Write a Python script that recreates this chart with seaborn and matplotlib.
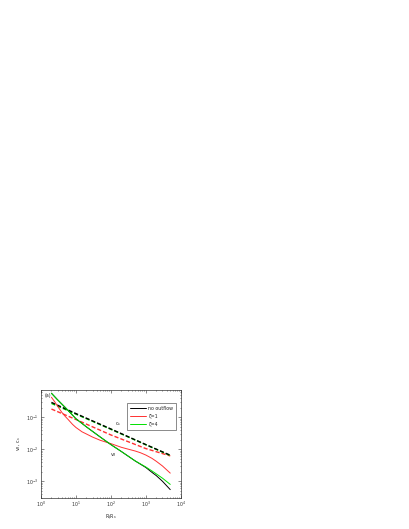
import numpy as np
import pandas as pd
import matplotlib
matplotlib.use("Agg")
import matplotlib.pyplot as plt
import seaborn as sns
from matplotlib.ticker import LogLocator, NullFormatter

# ---- data ----
R_solid = [2, 3, 5, 10, 20, 50, 100, 200, 500, 1000, 1500, 2000, 3000, 5000]
vR_noout = [0.56, 0.35, 0.20, 0.09, 0.05, 0.024, 0.014, 0.0085, 0.0043, 0.0027, 0.0019, 0.0015, 0.001, 0.00055]
vR_z4 = [0.56, 0.35, 0.20, 0.09, 0.05, 0.024, 0.014, 0.0085, 0.0043, 0.0028, 0.0021, 0.0017, 0.00125, 0.0008]

R_red = [2, 2.5, 3, 4, 5, 6, 8, 10, 15, 20, 30, 50, 100, 200, 300, 500, 700, 1000, 1500, 2000, 3000, 5000]
vR_z1 = [0.42, 0.30, 0.22, 0.14, 0.105, 0.085, 0.06, 0.048, 0.035, 0.03, 0.024, 0.019, 0.015, 0.0115,
         0.0102, 0.0088, 0.0078, 0.0066, 0.0052, 0.0042, 0.003, 0.0018]

R_cs = [2, 10, 100, 1000, 5000]
cs_noout = [0.29, 0.13, 0.043, 0.014, 0.0065]
cs_z4 = [0.27, 0.125, 0.042, 0.0138, 0.0064]
cs_z1 = [0.18, 0.085, 0.028, 0.0105, 0.0062]

labels = ["no outflow", "ζ=1", "ζ=4"]
colors = ["black", "#ff3030", "#00e000"]

sns.set_style("ticks")
plt.rcParams['font.family'] = ['DejaVu Sans']
plt.rcParams['mathtext.fontset'] = 'dejavusans'

fig = plt.figure(figsize=(4.09, 5.29), dpi=100)
ax = fig.add_axes([0.100, 0.0585, 0.342, 0.204])

fs = 3.4
lw = 0.7
# dashed sound speed lines
for R, v, c in [(R_cs, cs_z1, colors[1]), (R_cs, cs_z4, colors[2]), (R_cs, cs_noout, colors[0])]:
    sns.lineplot(x=R, y=v, ax=ax, color=c, lw=1.0, linestyle=(0, (3, 1.5)), legend=False)

# solid radial velocity lines
sns.lineplot(x=R_red, y=vR_z1, ax=ax, color=colors[1], lw=lw, label=labels[1])
sns.lineplot(x=R_solid, y=vR_noout, ax=ax, color=colors[0], lw=lw, label=labels[0])
sns.lineplot(x=R_solid, y=vR_z4, ax=ax, color=colors[2], lw=lw, label=labels[2])

ax.set_xscale("log")
ax.set_yscale("log")
ax.set_xlim(1, 1e4)
ax.set_ylim(3e-4, 0.7)

ax.xaxis.set_major_locator(LogLocator(base=10, numticks=10))
ax.xaxis.set_minor_locator(LogLocator(base=10, subs=np.arange(2, 10), numticks=10))
ax.yaxis.set_major_locator(LogLocator(base=10, numticks=10))
ax.yaxis.set_minor_locator(LogLocator(base=10, subs=np.arange(2, 10), numticks=10))
ax.xaxis.set_minor_formatter(NullFormatter())
ax.yaxis.set_minor_formatter(NullFormatter())

ax.tick_params(which="both", direction="in", top=True, right=True, labelsize=fs,
               width=0.4, pad=1.5, colors="#333333")
ax.tick_params(which="major", length=2)
ax.tick_params(which="minor", length=1)
for s in ax.spines.values():
    s.set_linewidth(0.5)
    s.set_color("#333333")

ax.set_xlabel("R/R$_s$", fontsize=fs, labelpad=2)
ax.set_ylabel("v$_R$, c$_s$", fontsize=fs, labelpad=2)

ax.text(0.03, 0.97, "(a)", transform=ax.transAxes, fontsize=fs, va="top", ha="left")
ax.text(135, 0.057, "c$_s$", fontsize=fs)
ax.text(95, 0.0062, "v$_R$", fontsize=fs)

handles, labs = ax.get_legend_handles_labels()
order = [labs.index(l) for l in labels]
leg = ax.legend([handles[i] for i in order], [labs[i] for i in order],
                loc="upper right", bbox_to_anchor=(0.985, 0.9), fontsize=fs,
                frameon=True, fancybox=False, edgecolor="#333333",
                handlelength=3.5, borderpad=0.6, labelspacing=0.6, handletextpad=0.5)
leg.get_frame().set_linewidth(0.5)

fig.savefig("out.png", dpi=100)
